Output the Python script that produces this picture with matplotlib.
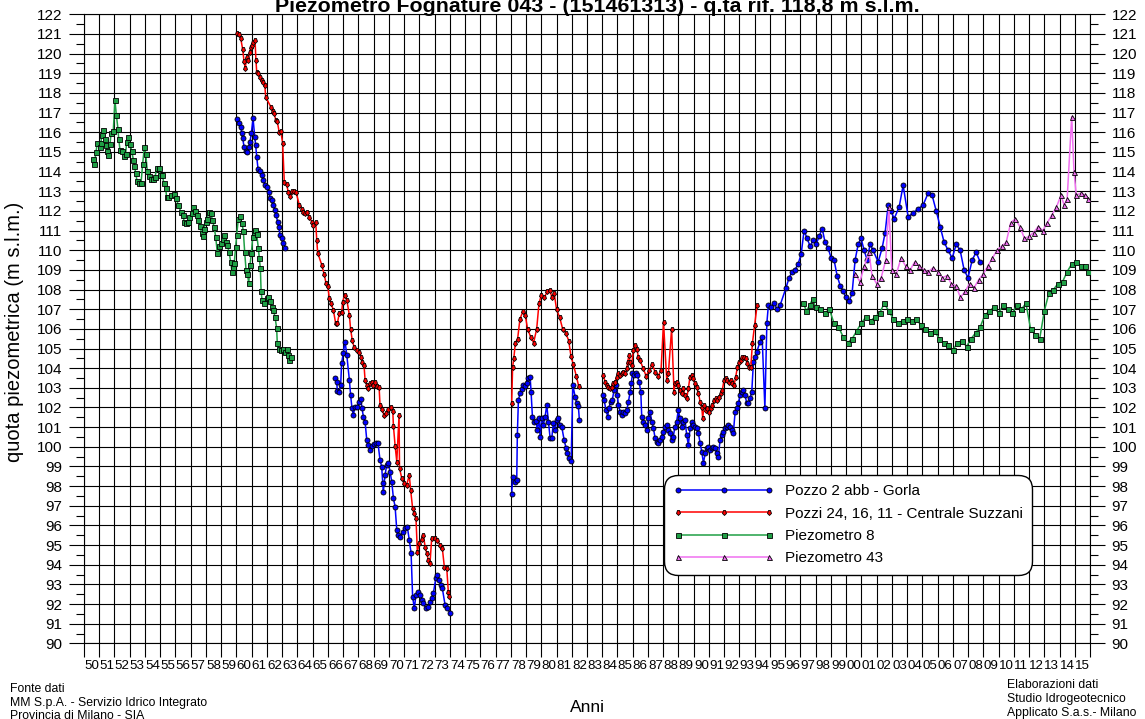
import numpy as np
import matplotlib
matplotlib.use("Agg")
import matplotlib.pyplot as plt
from matplotlib.markers import MarkerStyle
from matplotlib.transforms import Affine2D

plt.rcParams["font.family"] = ["Liberation Sans", "DejaVu Sans"]

# --- Pozzo 2 abb - Gorla (blue) ---------------------------------------------
gorla_a_anni = [1960.06, 1960.17, 1960.28, 1960.35, 1960.41, 1960.5, 1960.61, 1960.72, 1960.83, 1960.89,
                1960.98, 1961.09, 1961.2, 1961.26, 1961.33, 1961.42, 1961.55, 1961.66, 1961.77, 1961.88,
                1962.03, 1962.12, 1962.2, 1962.31, 1962.42, 1962.51, 1962.6, 1962.7, 1962.77, 1962.86,
                1962.97, 1963.08, 1963.21]
gorla_a_quota = [116.66, 116.46, 116.25, 115.98, 115.69, 115.27, 115.06, 115.01, 115.27, 115.52,
                 115.95, 116.71, 115.77, 115.35, 114.76, 114.12, 114.05, 113.83, 113.57, 113.3,
                 113.23, 112.97, 112.64, 112.55, 112.3, 112.05, 111.8, 111.45, 111.2, 110.78,
                 110.6, 110.35, 110.1]

gorla_b_anni = [1966.47, 1966.58, 1966.62, 1966.75, 1966.84, 1966.9, 1967.01, 1967.13, 1967.24, 1967.41,
                1967.49, 1967.58, 1967.67, 1967.78, 1967.93, 1968.06, 1968.16, 1968.24, 1968.33, 1968.44,
                1968.55, 1968.66, 1968.77, 1968.9, 1969.03, 1969.16, 1969.29, 1969.42, 1969.53, 1969.6,
                1969.64, 1969.75, 1969.86, 1969.97, 1970.08, 1970.19, 1970.3, 1970.41, 1970.52, 1970.62,
                1970.73, 1970.91, 1971.06, 1971.21, 1971.34, 1971.46, 1971.56, 1971.67, 1971.78, 1971.93,
                1972.05, 1972.16, 1972.26, 1972.44, 1972.59, 1972.7, 1972.81, 1972.92, 1973.08, 1973.18,
                1973.31, 1973.41, 1973.51, 1973.69, 1973.84, 1974.02]
gorla_b_quota = [103.48, 103.3, 102.85, 102.8, 103.15, 104.25, 104.76, 105.35, 104.67, 103.4,
                 102.64, 101.96, 101.62, 102.04, 102.04, 102.3, 102.42, 101.96, 101.53, 101.28,
                 100.35, 100.1, 99.84, 100.04, 100.14, 100.2, 100.17, 99.33, 98.99, 98.14,
                 97.72, 98.57, 99.07, 99.16, 98.73, 98.23, 97.38, 96.96, 95.77, 95.52,
                 95.43, 95.68, 95.86, 95.94, 95.26, 94.58, 92.37, 91.78, 92.46, 92.63,
                 92.46, 92.2, 92.04, 91.78, 91.87, 92.12, 92.29, 92.55, 93.31, 93.48,
                 93.22, 92.97, 92.8, 91.95, 91.78, 91.56]

gorla_c_anni = [1978.06, 1978.12, 1978.28, 1978.39, 1978.43, 1978.5, 1978.61, 1978.72, 1978.83, 1978.94,
                1979.05, 1979.15, 1979.27, 1979.33, 1979.42, 1979.53, 1979.66, 1979.74, 1979.86, 1979.92,
                1980.03, 1980.14, 1980.25, 1980.36, 1980.47, 1980.58, 1980.69, 1980.79, 1980.91, 1981.02,
                1981.12, 1981.23, 1981.34, 1981.5, 1981.63, 1981.71, 1981.84, 1981.96, 1982.07, 1982.22,
                1982.33, 1982.43, 1982.5]
gorla_c_quota = [97.6, 98.44, 98.22, 98.31, 100.6, 102.38, 102.72, 102.92, 103.14, 103.1,
                 103.26, 103.48, 103.55, 102.8, 101.53, 101.28, 101.3, 100.86, 101.45, 100.52,
                 101.45, 101.11, 101.53, 102.13, 101.28, 100.45, 100.45, 101.2, 100.86, 101.37,
                 101.45, 101.11, 101.03, 100.35, 99.92, 99.67, 99.42, 99.3, 103.14, 102.55,
                 102.21, 102.1, 101.37]

gorla_d_anni = [1984.07, 1984.12, 1984.25, 1984.36, 1984.42, 1984.56, 1984.66, 1984.78, 1984.91, 1984.99,
                1985.06, 1985.17, 1985.28, 1985.39, 1985.5, 1985.61, 1985.72, 1985.83, 1985.91, 1985.98,
                1986.09, 1986.2, 1986.31, 1986.42, 1986.53, 1986.59, 1986.7, 1986.81, 1986.92, 1987.03,
                1987.14, 1987.25, 1987.36, 1987.47, 1987.58, 1987.68, 1987.79, 1987.9, 1988.01, 1988.12,
                1988.23, 1988.34, 1988.45, 1988.56, 1988.66, 1988.77, 1988.88, 1988.99, 1989.1, 1989.21,
                1989.32, 1989.43, 1989.54, 1989.65, 1989.76, 1989.87, 1989.98, 1990.09, 1990.2, 1990.31,
                1990.42, 1990.53, 1990.64, 1990.75, 1990.86, 1990.96, 1991.07, 1991.18, 1991.29, 1991.4,
                1991.51, 1991.62, 1991.73, 1991.84, 1991.95, 1992.06, 1992.17, 1992.28, 1992.39, 1992.5,
                1992.6, 1992.72, 1992.83, 1992.93, 1993.04, 1993.15, 1993.26, 1993.37, 1993.48, 1993.59,
                1993.7, 1993.81, 1993.92, 1994.03, 1994.14, 1994.36, 1994.49, 1994.67, 1994.8, 1994.9,
                1995.08, 1995.28, 1995.47, 1995.67, 1996.06, 1996.26, 1996.46, 1996.65, 1996.85, 1997.05,
                1997.24, 1997.44, 1997.64, 1997.83, 1998.03, 1998.23, 1998.43, 1998.62, 1998.82, 1999.02,
                1999.21, 1999.41, 1999.61, 1999.8, 2000.0, 2000.2, 2000.39, 2000.59, 2000.79, 2000.98,
                2001.18, 2001.38, 2001.57, 2001.77, 2002.1, 2002.36, 2002.56, 2002.76, 2002.95, 2003.15,
                2003.48, 2003.74, 2004.07, 2004.4, 2004.72, 2005.05, 2005.38, 2005.64, 2005.91, 2006.17,
                2006.43, 2006.69, 2006.96, 2007.22, 2007.48, 2007.74, 2008.0, 2008.27, 2008.53, 2008.79]
gorla_d_quota = [102.64, 102.38, 101.87, 101.53, 101.96, 102.3, 102.4, 102.89, 103.15, 102.64,
                 102.13, 101.79, 101.6, 101.79, 101.7, 101.87, 102.3, 102.8, 103.23, 103.74,
                 103.65, 103.74, 103.65, 103.3, 102.8, 101.53, 101.28, 101.11, 100.86, 101.45,
                 101.79, 101.28, 100.94, 100.43, 100.26, 100.18, 100.35, 100.52, 100.77, 101.03,
                 101.11, 100.86, 100.7, 100.35, 100.52, 101.03, 101.28, 101.87, 101.45, 101.03,
                 101.28, 101.37, 100.6, 100.09, 100.94, 101.28, 101.11, 101.03, 100.94, 100.7,
                 100.18, 99.75, 99.16, 99.67, 99.92, 100.0, 99.84, 99.92, 100.0, 99.92,
                 99.67, 99.5, 100.35, 100.6, 100.77, 100.94, 101.03, 101.11, 101.0, 100.86,
                 100.7, 101.79, 101.96, 102.21, 102.64, 102.8, 102.89, 102.64, 102.21, 102.21,
                 102.46, 102.8, 104.33, 104.59, 104.84, 105.35, 105.6, 101.96, 106.3, 107.2,
                 107.1, 107.3, 107.0, 107.2, 108.1, 108.6, 108.9, 109.0, 109.3, 109.8,
                 111.0, 110.6, 110.2, 110.5, 110.3, 110.7, 111.1, 110.4, 110.1, 109.6,
                 109.5, 108.7, 108.2, 107.9, 107.6, 107.4, 107.8, 109.5, 110.3, 110.6,
                 110.0, 109.5, 110.3, 110.0, 109.4, 110.1, 110.9, 112.3, 112.0, 111.6,
                 112.2, 113.3, 111.7, 111.9, 112.1, 112.3, 112.9, 112.8, 112.0, 111.2,
                 110.4, 110.0, 109.6, 110.3, 110.0, 109.0, 108.6, 109.5, 109.9, 109.4]

# --- Pozzi 24, 16, 11 - Centrale Suzzani (red) ------------------------------
suzzani_a_anni = [1960.06, 1960.19, 1960.28, 1960.41, 1960.5, 1960.58, 1960.67, 1960.78, 1960.87, 1960.96,
                  1961.04, 1961.11, 1961.22, 1961.28, 1961.33, 1961.44, 1961.55, 1961.66, 1961.77, 1961.86,
                  1961.92, 1962.25, 1962.38, 1962.47, 1962.58, 1962.68, 1962.8, 1962.91, 1963.03, 1963.14,
                  1963.29, 1963.4, 1963.51, 1963.64, 1963.78, 1963.91, 1964.13, 1964.28, 1964.39, 1964.5,
                  1964.65, 1964.78, 1964.94, 1965.05, 1965.2, 1965.27, 1965.33, 1965.6, 1965.75, 1965.88,
                  1965.99, 1966.1, 1966.21, 1966.36, 1966.51, 1966.62, 1966.75, 1966.91, 1966.97, 1967.1,
                  1967.24, 1967.41, 1967.49, 1967.6, 1967.71, 1967.89, 1968.06, 1968.2, 1968.24, 1968.37,
                  1968.44, 1968.55, 1968.66, 1968.77, 1968.88, 1968.98, 1969.09, 1969.2, 1969.36, 1969.42,
                  1969.53, 1969.69, 1969.82, 1969.97, 1970.12, 1970.26, 1970.3, 1970.41, 1970.52, 1970.67,
                  1970.7, 1970.85, 1971.0, 1971.17, 1971.34, 1971.43, 1971.56, 1971.65, 1971.78, 1971.87,
                  1972.0, 1972.15, 1972.26, 1972.38, 1972.49, 1972.59, 1972.7, 1972.81, 1973.03, 1973.18,
                  1973.36, 1973.51, 1973.64, 1973.8, 1973.9, 1973.97]
suzzani_a_quota = [121.03, 121.0, 120.78, 120.22, 119.6, 119.25, 119.85, 119.7, 120.1, 120.35,
                   120.45, 120.6, 120.7, 119.67, 119.08, 119.0, 118.8, 118.67, 118.57, 118.4,
                   117.8, 117.3, 117.1, 117.0, 116.62, 116.55, 116.03, 116.05, 115.47, 113.48,
                   113.35, 112.97, 112.75, 113.0, 113.0, 112.95, 112.3, 112.1, 111.96, 111.9,
                   111.96, 111.71, 111.45, 111.28, 111.45, 110.52, 109.87, 109.25, 108.8, 108.32,
                   108.18, 107.55, 107.3, 106.96, 106.28, 106.28, 106.79, 106.87, 107.38, 107.72,
                   107.47, 106.7, 105.98, 105.43, 105.1, 104.93, 104.84, 104.58, 104.33, 104.16,
                   103.4, 103.15, 103.0, 103.23, 103.3, 103.15, 103.3, 103.1, 103.05, 102.13,
                   101.9, 101.63, 101.7, 101.9, 102.0, 101.8, 101.06, 100.06, 99.25, 101.62,
                   98.9, 98.4, 98.17, 98.06, 98.56, 97.8, 96.87, 96.65, 96.36, 94.67,
                   95.09, 95.3, 95.52, 94.92, 94.58, 94.24, 94.07, 95.35, 95.35, 95.26,
                   95.0, 94.83, 93.9, 93.82, 92.63, 92.41]

suzzani_b_anni = [1978.06, 1978.12, 1978.2, 1978.3, 1978.45, 1978.6, 1978.8, 1978.95, 1979.1, 1979.3,
                  1979.5, 1979.7, 1979.85, 1980.0, 1980.2, 1980.4, 1980.55, 1980.7, 1980.85, 1981.0,
                  1981.2, 1981.4, 1981.6, 1981.8, 1981.95, 1982.1, 1982.3, 1982.45]
suzzani_b_quota = [102.24, 104.07, 104.5, 105.3, 105.5, 106.5, 106.9, 106.7, 106.0, 105.6,
                   105.3, 106.0, 107.3, 107.7, 107.6, 107.9, 108.0, 107.6, 107.8, 107.0,
                   106.6, 106.0, 105.8, 105.4, 104.6, 104.2, 103.6, 103.1]

suzzani_c_anni = [1984.07, 1984.19, 1984.29, 1984.4, 1984.51, 1984.62, 1984.73, 1984.84, 1984.95, 1985.06,
                  1985.17, 1985.28, 1985.39, 1985.5, 1985.61, 1985.67, 1985.76, 1985.83, 1985.93, 1986.04,
                  1986.15, 1986.26, 1986.37, 1986.48, 1986.68, 1986.88, 1987.07, 1987.28, 1987.47, 1987.66,
                  1987.86, 1988.02, 1988.23, 1988.34, 1988.55, 1988.71, 1988.78, 1988.89, 1988.99, 1989.1,
                  1989.21, 1989.32, 1989.43, 1989.54, 1989.65, 1989.76, 1989.87, 1989.98, 1990.09, 1990.2,
                  1990.31, 1990.42, 1990.53, 1990.59, 1990.68, 1990.79, 1990.9, 1991.03, 1991.12, 1991.23,
                  1991.34, 1991.45, 1991.56, 1991.67, 1991.78, 1991.88, 1991.99, 1992.1, 1992.21, 1992.32,
                  1992.43, 1992.54, 1992.65, 1992.76, 1992.87, 1992.98, 1993.09, 1993.2, 1993.31, 1993.42,
                  1993.52, 1993.64, 1993.75, 1993.85, 1994.0, 1994.16]
suzzani_c_quota = [103.65, 103.3, 103.15, 103.06, 102.97, 103.06, 103.23, 103.3, 103.57, 103.74,
                   103.65, 103.74, 103.82, 103.74, 104.0, 104.33, 104.67, 104.33, 104.16, 104.93,
                   105.2, 105.0, 104.58, 104.4, 104.0, 103.6, 103.9, 104.2, 103.8, 103.6,
                   103.9, 106.35, 103.4, 103.74, 106.0, 102.8, 103.23, 103.31, 103.14, 102.89,
                   102.72, 102.97, 102.64, 102.46, 102.97, 103.57, 103.65, 103.48, 103.23, 103.06,
                   102.72, 102.3, 102.04, 101.45, 102.13, 101.87, 101.96, 101.79, 101.96, 102.13,
                   102.38, 102.46, 102.38, 102.55, 102.72, 102.89, 103.4, 103.48, 103.4, 103.31,
                   103.4, 103.23, 103.14, 103.57, 104.07, 104.33, 104.41, 104.58, 104.58, 104.5,
                   104.24, 104.07, 104.07, 105.26, 106.2, 107.2]

# --- Piezometro 8 (green) ---------------------------------------------------
piez8_a_anni = [1950.57, 1950.68, 1950.79, 1950.87, 1951.05, 1951.11, 1951.16, 1951.27, 1951.38, 1951.44,
                1951.53, 1951.6, 1951.71, 1951.77, 1951.92, 1952.03, 1952.12, 1952.23, 1952.28, 1952.36,
                1952.49, 1952.62, 1952.73, 1952.8, 1952.91, 1953.02, 1953.13, 1953.24, 1953.3, 1953.39,
                1953.48, 1953.63, 1953.74, 1953.85, 1953.96, 1954.05, 1954.15, 1954.27, 1954.38, 1954.51,
                1954.66, 1954.77, 1954.9, 1954.99, 1955.12, 1955.25, 1955.36, 1955.42, 1955.53, 1955.69,
                1955.91, 1956.04, 1956.19, 1956.35, 1956.48, 1956.58, 1956.69, 1956.8, 1956.91, 1957.07,
                1957.17, 1957.28, 1957.4, 1957.5, 1957.61, 1957.72, 1957.78, 1957.87, 1957.99, 1958.09,
                1958.2, 1958.31, 1958.42, 1958.53, 1958.64, 1958.75, 1958.86, 1958.97, 1959.1, 1959.21,
                1959.32, 1959.4, 1959.51, 1959.62, 1959.71, 1959.8, 1959.86, 1959.95, 1960.02, 1960.12,
                1960.24, 1960.35, 1960.45, 1960.54, 1960.63, 1960.72, 1960.81, 1960.89, 1960.98, 1961.07,
                1961.16, 1961.24, 1961.33, 1961.44, 1961.5, 1961.57, 1961.62, 1961.68, 1961.81, 1961.99,
                1962.09, 1962.2, 1962.31, 1962.42, 1962.53, 1962.64, 1962.68, 1962.77, 1962.9, 1963.04,
                1963.17, 1963.3, 1963.38, 1963.47, 1963.56]
piez8_a_quota = [114.66, 114.41, 115.0, 115.45, 115.25, 115.45, 115.85, 116.1, 115.68, 115.35,
                 115.05, 114.85, 115.4, 115.95, 116.05, 117.63, 116.9, 116.15, 115.65, 115.1,
                 115.05, 114.8, 114.9, 115.5, 115.75, 115.4, 115.05, 114.6, 114.3, 113.95,
                 113.5, 113.4, 113.4, 114.4, 115.25, 114.9, 114.05, 113.75, 113.6, 113.6,
                 113.7, 114.2, 114.2, 113.85, 113.85, 113.4, 113.15, 112.7, 112.72, 112.8,
                 112.84, 112.64, 112.3, 111.96, 111.79, 111.45, 111.4, 111.45, 111.7, 111.9,
                 112.2, 112.0, 111.8, 111.54, 111.23, 110.86, 110.7, 111.1, 111.45, 111.6,
                 111.95, 111.9, 111.55, 111.2, 110.69, 109.84, 110.2, 110.35, 110.55, 110.77,
                 110.43, 110.27, 109.93, 109.42, 108.9, 109.17, 109.37, 110.18, 110.77, 111.57,
                 111.74, 111.4, 111.0, 109.93, 109.0, 108.8, 108.32, 109.25, 109.84, 110.68,
                 110.95, 111.05, 110.8, 110.1, 109.6, 109.08, 107.9, 107.47, 107.33, 107.55,
                 107.63, 107.4, 107.13, 106.96, 106.62, 106.03, 105.27, 105.0, 104.9, 105.0,
                 104.83, 104.96, 104.66, 104.4, 104.55]

piez8_b_anni = [1997.2, 1997.4, 1997.6, 1997.8, 1998.0, 1998.3, 1998.6, 1998.9, 1999.2, 1999.5,
                1999.8, 2000.1, 2000.4, 2000.7, 2001.0, 2001.3, 2001.6, 2001.9, 2002.2, 2002.5,
                2002.8, 2003.1, 2003.4, 2003.7, 2004.0, 2004.3, 2004.6, 2004.9, 2005.2, 2005.5,
                2005.8, 2006.1, 2006.4, 2006.7, 2007.0, 2007.3, 2007.6, 2007.9, 2008.2, 2008.5,
                2008.8, 2009.1, 2009.4, 2009.7, 2010.0, 2010.3, 2010.6, 2010.9, 2011.2, 2011.5,
                2011.8, 2012.1, 2012.4, 2012.7, 2013.0, 2013.3, 2013.6, 2013.9, 2014.2, 2014.5,
                2014.8, 2015.1, 2015.4, 2015.7, 2015.9]
piez8_b_quota = [107.3, 106.9, 107.2, 107.5, 107.1, 107.0, 106.8, 107.0, 106.3, 106.1,
                 105.6, 105.3, 105.5, 105.9, 106.3, 106.6, 106.4, 106.6, 106.8, 107.3,
                 106.9, 106.5, 106.3, 106.4, 106.5, 106.4, 106.5, 106.2, 106.0, 105.8,
                 105.9, 105.5, 105.3, 105.2, 104.9, 105.3, 105.4, 105.1, 105.5, 105.8,
                 106.1, 106.7, 106.9, 107.1, 106.8, 107.2, 107.0, 106.8, 107.2, 107.0,
                 107.3, 106.0, 105.7, 105.5, 106.9, 107.8, 108.0, 108.3, 108.4, 108.9,
                 109.3, 109.4, 109.2, 109.2, 108.9]

# --- Piezometro 43 (magenta) ------------------------------------------------
piez43_anni = [2000.6, 2000.9, 2001.2, 2001.5, 2001.7, 2002.0, 2002.3, 2002.6, 2002.8, 2003.0,
               2003.3, 2003.6, 2003.9, 2004.2, 2004.5, 2004.8, 2005.1, 2005.4, 2005.7, 2006.0,
               2006.3, 2006.6, 2006.9, 2007.2, 2007.5, 2007.8, 2008.1, 2008.4, 2008.7, 2009.0,
               2009.3, 2009.6, 2009.9, 2010.2, 2010.5, 2010.8, 2011.1, 2011.4, 2011.7, 2012.0,
               2012.3, 2012.6, 2012.9, 2013.2, 2013.5, 2013.8, 2014.1, 2014.3, 2014.5, 2014.8,
               2014.95, 2015.1, 2015.4, 2015.7, 2015.9]
piez43_quota = [108.8, 108.4, 109.2, 109.9, 108.7, 108.3, 108.6, 109.5, 112.2, 109.0,
                108.8, 109.6, 109.2, 109.0, 109.4, 109.2, 109.0, 108.9, 109.1, 108.9,
                108.6, 108.7, 108.3, 108.2, 107.6, 107.9, 108.3, 108.1, 108.5, 108.8,
                109.2, 109.6, 110.0, 110.2, 110.4, 111.4, 111.6, 111.2, 110.6, 110.7,
                110.9, 111.2, 111.0, 111.4, 111.8, 112.2, 112.8, 112.3, 112.6, 116.8,
                114.0, 112.8, 112.9, 112.8, 112.6]

anni_etichette = [f"{a % 100:02d}" for a in range(1950, 2016)]

TITOLO = "Piezometro Fognature 043 - (151461313) - q.ta rif. 118,8 m s.l.m."

# downward pentagon for the Suzzani wells
PENTA_GIU = MarkerStyle("p", transform=Affine2D().rotate_deg(180))


def plot_series(ax, segments, color, marker, label):
    """Draw every segment of one series, labelling only the first"""
    for i, (anni, quota) in enumerate(segments):
        ax.plot(anni, quota, color=color, lw=1.1, marker=marker, ms=3.6,
                mfc=color, mec="black", mew=0.6, zorder=3,
                label=label if i == 0 else None)


W, H = 1145, 719
fig = plt.figure(figsize=(W / 100, H / 100), dpi=100)
ax = fig.add_axes([84 / W, 1 - 643.4 / H, 1006 / W, 629.1 / H])

plot_series(ax, [(gorla_a_anni, gorla_a_quota), (gorla_b_anni, gorla_b_quota),
                 (gorla_c_anni, gorla_c_quota), (gorla_d_anni, gorla_d_quota)],
            "#0000ff", "o", "Pozzo 2 abb - Gorla")
plot_series(ax, [(suzzani_a_anni, suzzani_a_quota), (suzzani_b_anni, suzzani_b_quota),
                 (suzzani_c_anni, suzzani_c_quota)],
            "#ff0000", PENTA_GIU, "Pozzi 24, 16, 11 - Centrale Suzzani")
plot_series(ax, [(piez8_a_anni, piez8_a_quota), (piez8_b_anni, piez8_b_quota)],
            "#1f9f45", "s", "Piezometro 8")
plot_series(ax, [(piez43_anni, piez43_quota)],
            "#f070f0", "^", "Piezometro 43")

# axes, ticks and grid
ax.set_xlim(1950, 2016)
ax.set_ylim(90, 122)
ax.set_xticks(np.arange(1950, 2017))
ax.set_xticklabels([])
ax.set_xticks(np.arange(1950.5, 2016), minor=True)
ax.set_xticklabels(anni_etichette, minor=True)
ax.set_yticks(np.arange(90, 123))
ax.set_yticks(np.arange(90.5, 122), minor=True)

ax.tick_params(axis="x", which="major", length=10, width=0.8, color="black")
ax.tick_params(axis="x", which="minor", length=0, pad=12, labelsize=9.6)
ax.tick_params(axis="y", which="major", length=11, width=0.8, labelsize=11, pad=4.5,
               left=True, right=True, labelleft=True, labelright=True)
ax.tick_params(axis="y", which="minor", length=6, width=0.8, left=True, right=True)
ax.grid(True, which="major", color="black", lw=0.8)
ax.set_axisbelow(True)
for spine in ax.spines.values():
    spine.set_linewidth(0.8)

# texts around the plot
fig.text(597 / W, 1 - 12 / H, TITOLO, ha="center", va="baseline", fontsize=15.4, fontweight="bold")
fig.text(15 / W, 1 - 332 / H, "quota piezometrica (m s.l.m.)", rotation=90,
         ha="center", va="center", fontsize=14.5)
fig.text(587 / W, 1 - 707 / H, "Anni", ha="center", va="center", fontsize=12.5)

fonte = ["Fonte dati", "MM S.p.A. - Servizio Idrico Integrato", "Provincia di Milano - SIA"]
for riga, y in zip(fonte, [689, 703, 716]):
    fig.text(10 / W, 1 - y / H, riga, ha="left", va="center", fontsize=8.8)
elaborazioni = ["Elaborazioni dati", "Studio Idrogeotecnico", "Applicato S.a.s.- Milano"]
for riga, y in zip(elaborazioni, [685, 699, 713]):
    fig.text(1007 / W, 1 - y / H, riga, ha="left", va="center", fontsize=8.8)

leg = ax.legend(loc="upper left", bbox_to_anchor=(664 / W, 1 - 475 / H), bbox_transform=fig.transFigure,
                borderaxespad=0, numpoints=3, fontsize=11, handlelength=6.6, handletextpad=0.7,
                borderpad=0.6, labelspacing=0.55, fancybox=True, framealpha=1, edgecolor="black")
leg.get_frame().set_linewidth(1.0)
leg.get_frame().set_boxstyle("round,pad=0,rounding_size=0.9")
leg.set_zorder(5)

fig.savefig("out.png", dpi=100)
